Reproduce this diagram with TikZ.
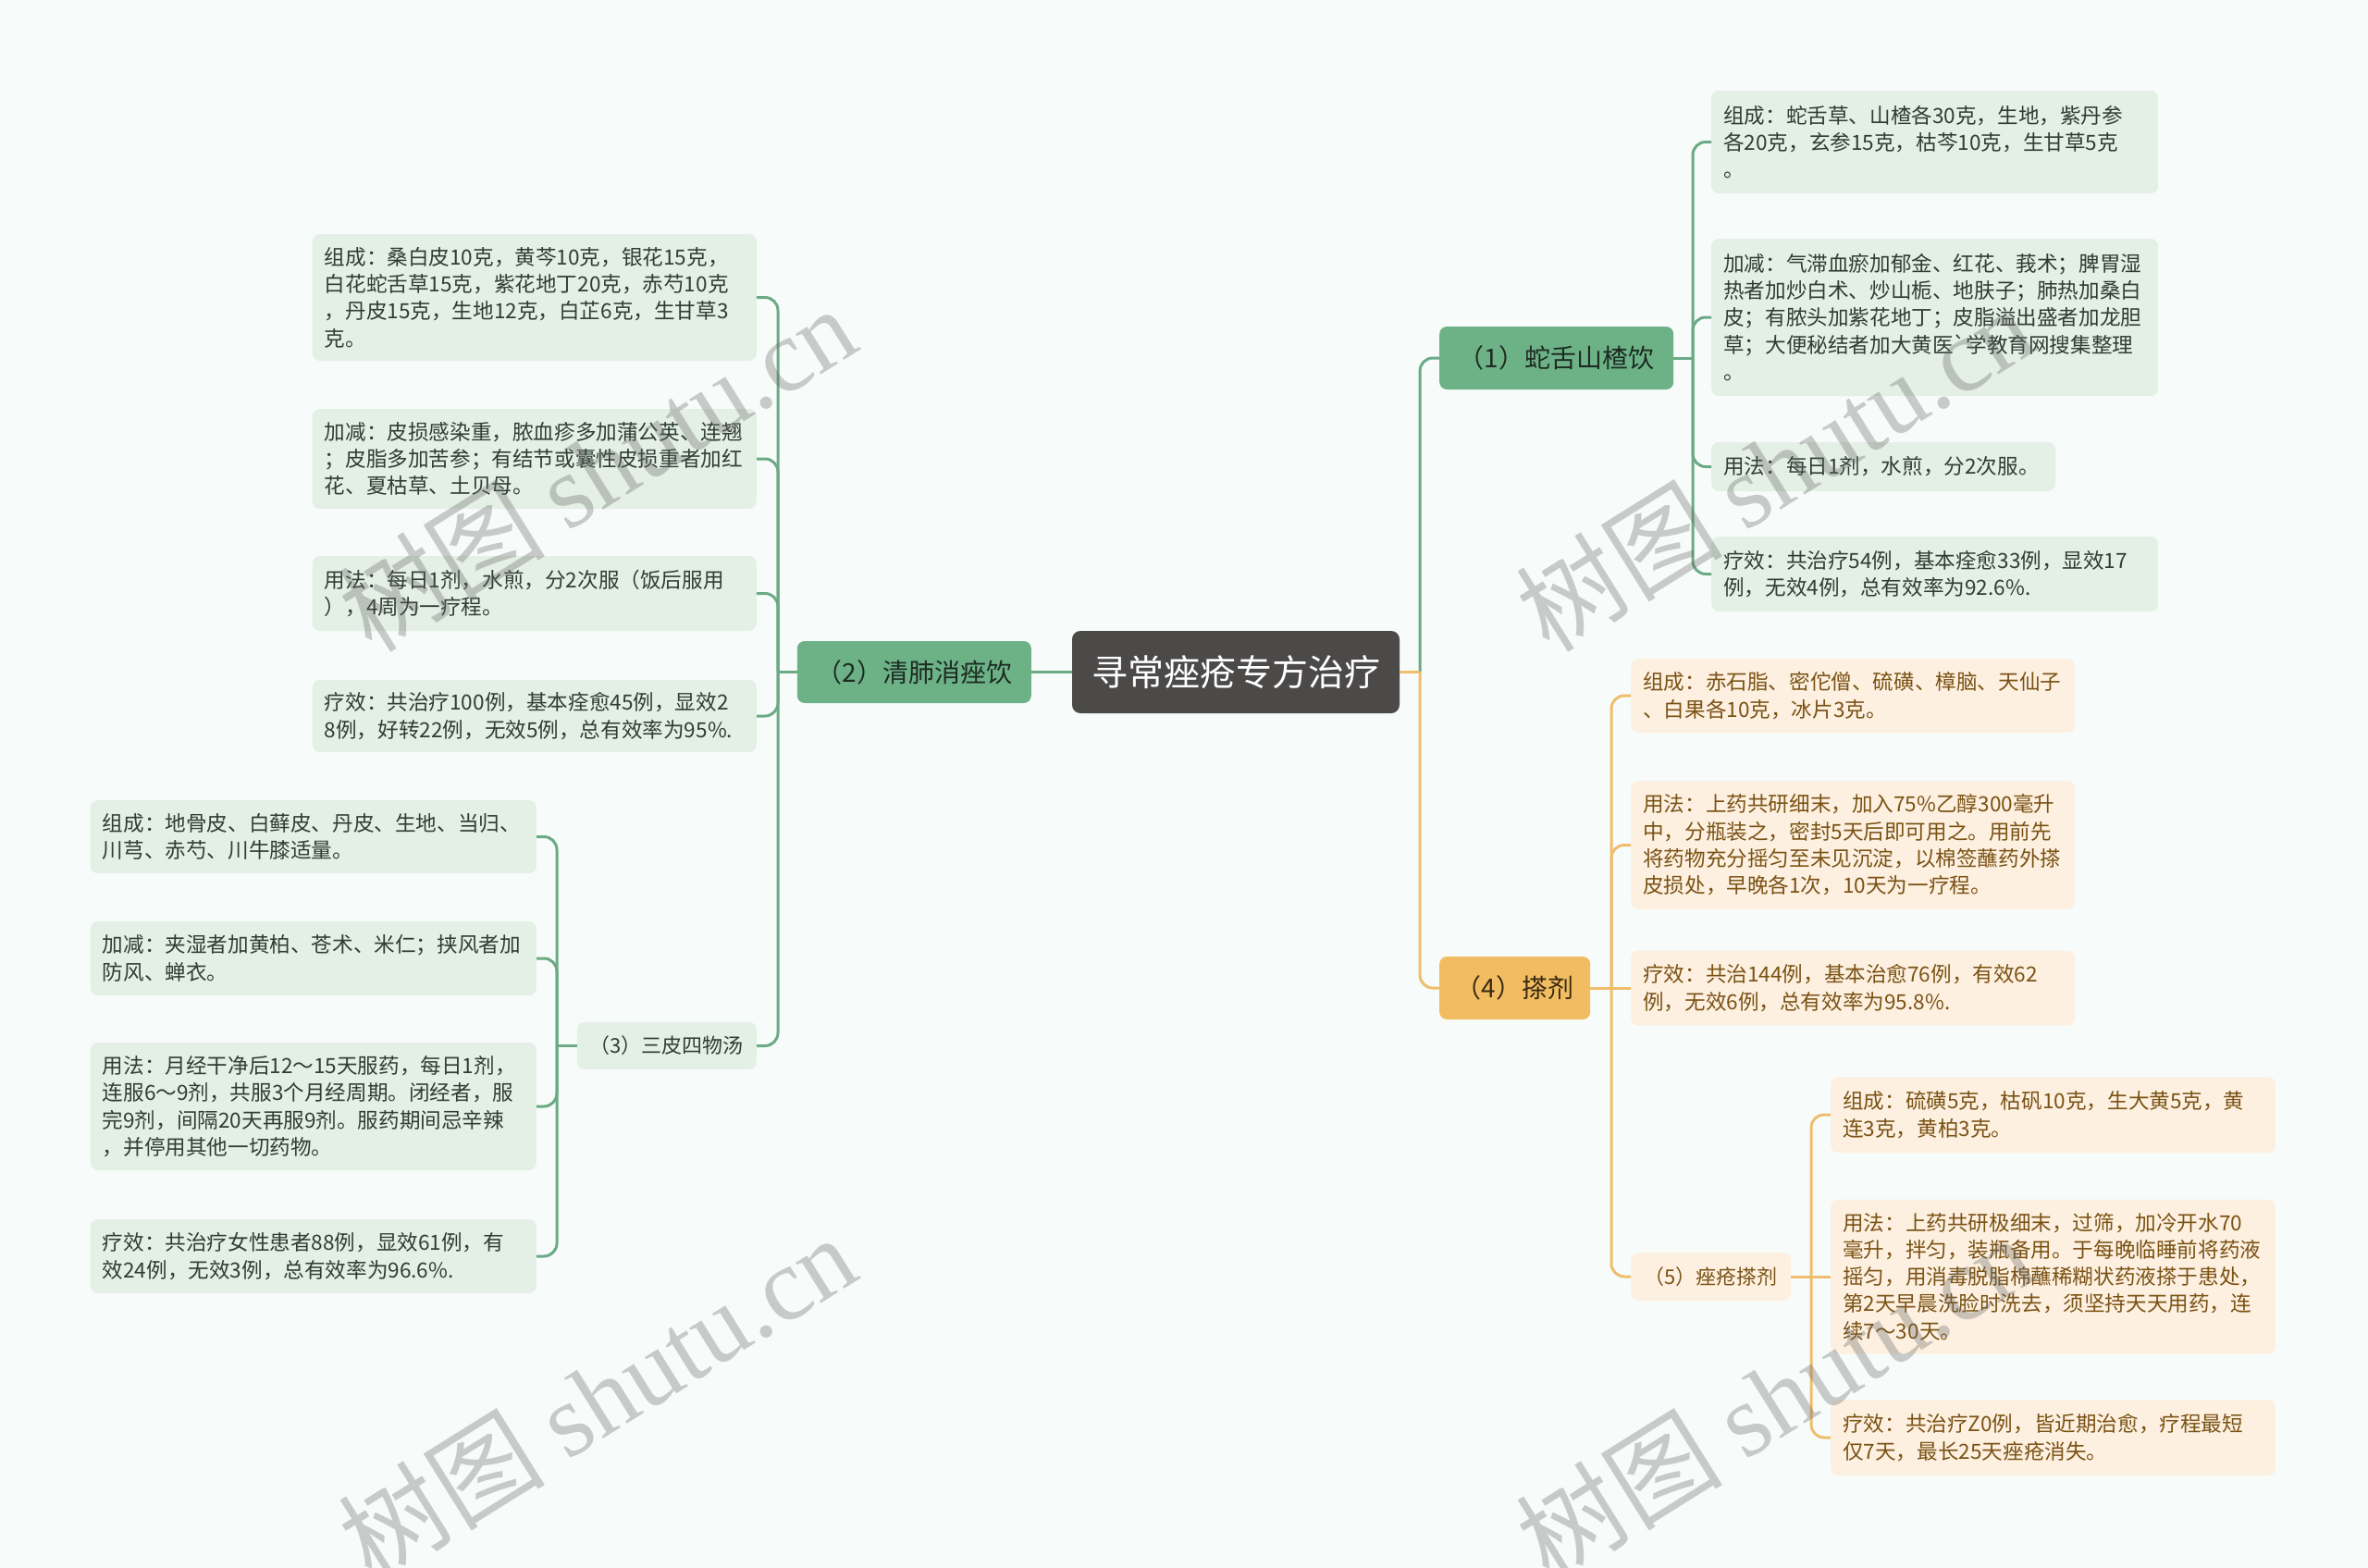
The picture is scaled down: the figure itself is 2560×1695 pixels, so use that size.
\documentclass[tikz,border=0pt]{standalone}
\usepackage{fontspec}
\setmainfont{Noto Sans CJK SC}
\newfontfamily\wmlatin{Liberation Serif}
\usetikzlibrary{calc}
\definecolor{bgc}{HTML}{F7FCFB}
\definecolor{leafgfill}{HTML}{E4EFE6}
\definecolor{leafgtext}{HTML}{2F3D33}
\definecolor{branchg}{HTML}{6DB287}
\definecolor{branchgtext}{HTML}{1D2B22}
\definecolor{lgreen}{HTML}{6BAA84}
\definecolor{brancho}{HTML}{F2BD62}
\definecolor{branchotext}{HTML}{3A2A10}
\definecolor{leafofill}{HTML}{FDF0E0}
\definecolor{leafotext}{HTML}{7A5214}
\definecolor{lorange}{HTML}{EFBE6C}
\definecolor{rootfill}{HTML}{4C4949}
\begin{document}
\begin{tikzpicture}[x=1pt,y=-1pt,
  conng/.style={draw=lgreen, line width=3pt, rounded corners=14pt},
  conno/.style={draw=lorange, line width=3pt, rounded corners=14pt},
  leafbase/.style={rounded corners=8pt, inner xsep=13pt, inner ysep=0pt, align=left, font=\fontsize{22.6}{29.3}\selectfont},
  leafg/.style={leafbase, fill=leafgfill, text=leafgtext},
  leafo/.style={leafbase, fill=leafofill, text=leafotext},
  branchgs/.style={rounded corners=8pt, fill=branchg, text=branchgtext, inner sep=0pt, font=\fontsize{28}{34}\selectfont},
  branchos/.style={rounded corners=8pt, fill=brancho, text=branchotext, inner sep=0pt, font=\fontsize{28}{34}\selectfont},
  subg/.style={rounded corners=8pt, fill=leafgfill, text=leafgtext, inner sep=0pt, font=\fontsize{22}{28}\selectfont},
  subo/.style={rounded corners=8pt, fill=leafofill, text=leafotext, inner sep=0pt, font=\fontsize{22}{28}\selectfont},
  rootst/.style={rounded corners=9pt, fill=rootfill, text=white, inner sep=0pt, font=\fontsize{39}{46}\selectfont},
  wm/.style={text=black!60, opacity=0.33, inner sep=0pt, font=\fontsize{112}{120}\selectfont}
]
\fill[bgc] (0,0) rectangle (2560,1695);
\useasboundingbox (0,0) rectangle (2560,1695);

% root and main branches
\node[rootst, minimum width=354pt, minimum height=89pt] (root) at (1336,726.5) {寻常痤疮专方治疗};
\node[branchgs, anchor=east, minimum width=253pt, minimum height=67pt] (n2) at (1115,726.5) {（2）清肺消痤饮};
\node[branchgs, anchor=west, minimum width=253pt, minimum height=68pt] (n1) at (1556,387) {（1）蛇舌山楂饮};
\node[branchos, anchor=west, minimum width=163pt, minimum height=68pt] (n4) at (1556,1068) {（4）搽剂};
\node[subg, anchor=east, minimum width=194pt, minimum height=51pt] (n3) at (818,1130.5) {（3）三皮四物汤};
\node[subo, anchor=west, minimum width=173pt, minimum height=52pt] (n5) at (1763,1380) {（5）痤疮搽剂};

% leaves of (2)
\node[leafg, anchor=east, text width=454pt, minimum height=137pt] (a21) at (818,321.5) {组成：桑白皮10克，黄芩10克，银花15克，\\白花蛇舌草15克，紫花地丁20克，赤芍10克\\，丹皮15克，生地12克，白芷6克，生甘草3\\克。};
\node[leafg, anchor=east, text width=454pt, minimum height=108pt] (a22) at (818,496) {加减：皮损感染重，脓血疹多加蒲公英、连翘\\；皮脂多加苦参；有结节或囊性皮损重者加红\\花、夏枯草、土贝母。};
\node[leafg, anchor=east, text width=454pt, minimum height=81pt] (a23) at (818,641.5) {用法：每日1剂，水煎，分2次服（饭后服用\\），4周为一疗程。};
\node[leafg, anchor=east, text width=454pt, minimum height=78pt] (a24) at (818,774) {疗效：共治疗100例，基本痊愈45例，显效2\\8例，好转22例，无效5例，总有效率为95\%.};

% leaves of (3)
\node[leafg, anchor=east, text width=456pt, minimum height=79pt] (a31) at (580,904.5) {组成：地骨皮、白藓皮、丹皮、生地、当归、\\川芎、赤芍、川牛膝适量。};
\node[leafg, anchor=east, text width=456pt, minimum height=80pt] (a32) at (580,1036) {加减：夹湿者加黄柏、苍术、米仁；挟风者加\\防风、蝉衣。};
\node[leafg, anchor=east, text width=456pt, minimum height=138pt] (a33) at (580,1196) {用法：月经干净后12～15天服药，每日1剂，\\连服6～9剂，共服3个月经周期。闭经者，服\\完9剂，间隔20天再服9剂。服药期间忌辛辣\\，并停用其他一切药物。};
\node[leafg, anchor=east, text width=456pt, minimum height=80pt] (a34) at (580,1358) {疗效：共治疗女性患者88例，显效61例，有\\效24例，无效3例，总有效率为96.6\%.};

% leaves of (1)
\node[leafg, anchor=west, text width=457pt, minimum height=111pt] (a11) at (1850,153.5) {组成：蛇舌草、山楂各30克，生地，紫丹参\\各20克，玄参15克，枯芩10克，生甘草5克\\。};
\node[leafg, anchor=west, text width=457pt, minimum height=170pt] (a12) at (1850,343) {加减：气滞血瘀加郁金、红花、莪术；脾胃湿\\热者加炒白术、炒山栀、地肤子；肺热加桑白\\皮；有脓头加紫花地丁；皮脂溢出盛者加龙胆\\草；大便秘结者加大黄医\textasciigrave 学教育网搜集整理\\。};
\node[leafg, anchor=west, text width=346pt, minimum height=53pt] (a13) at (1850,504.5) {用法：每日1剂，水煎，分2次服。};
\node[leafg, anchor=west, text width=457pt, minimum height=81pt] (a14) at (1850,620.5) {疗效：共治疗54例，基本痊愈33例，显效17\\例，无效4例，总有效率为92.6\%.};

% leaves of (4)
\node[leafo, anchor=west, text width=454pt, minimum height=80pt] (a41) at (1763,752) {组成：赤石脂、密佗僧、硫磺、樟脑、天仙子\\、白果各10克，冰片3克。};
\node[leafo, anchor=west, text width=454pt, minimum height=139pt] (a42) at (1763,913.5) {用法：上药共研细末，加入75\%乙醇300毫升\\中，分瓶装之，密封5天后即可用之。用前先\\将药物充分摇匀至未见沉淀，以棉签蘸药外搽\\皮损处，早晚各1次，10天为一疗程。};
\node[leafo, anchor=west, text width=454pt, minimum height=81pt] (a43) at (1763,1068) {疗效：共治144例，基本治愈76例，有效62\\例，无效6例，总有效率为95.8\%.};

% leaves of (5)
\node[leafo, anchor=west, text width=455pt, minimum height=82pt] (a51) at (1979,1205) {组成：硫磺5克，枯矾10克，生大黄5克，黄\\连3克，黄柏3克。};
\node[leafo, anchor=west, text width=455pt, minimum height=167pt] (a52) at (1979,1380) {用法：上药共研极细末，过筛，加冷开水70\\毫升，拌匀，装瓶备用。于每晚临睡前将药液\\摇匀，用消毒脱脂棉蘸稀糊状药液搽于患处，\\第2天早晨洗脸时洗去，须坚持天天用药，连\\续7～30天。};
\node[leafo, anchor=west, text width=455pt, minimum height=82pt] (a53) at (1979,1554) {疗效：共治疗Z0例，皆近期治愈，疗程最短\\仅7天，最长25天痤疮消失。};

% junction coordinates
\coordinate (t2) at (841,726.5);
\coordinate (tr) at (1535,726.5);
\coordinate (t1) at (1830,387);
\coordinate (t4) at (1742,1068);
\coordinate (t3) at (602,1130.5);
\coordinate (t5) at (1958,1380);

% connectors
\draw[conng] (root.west) -- (n2.east);
\draw[conng] (n2.west) -- (t2);
\foreach \l in {a21,a22,a23,a24,n3} \draw[conng] (t2) |- (\l.east);
\draw[conng] (n3.west) -- (t3);
\foreach \l in {a31,a32,a33,a34} \draw[conng] (t3) |- (\l.east);
\draw[conng] (tr) |- (n1.west);
\draw[conno] (root.east) -- (tr);
\draw[conno] (tr) |- (n4.west);
\draw[conng] (n1.east) -- (t1);
\foreach \l in {a11,a12,a13,a14} \draw[conng] (t1) |- (\l.west);
\draw[conno] (n4.east) -- (t4);
\foreach \l in {a41,a42} \draw[conno] (t4) |- (\l.west);
\draw[conno] (t4) -- (a43.west);
\draw[conno] (t4) |- (n5.west);
\draw[conno] (n5.east) -- (t5);
\foreach \l in {a51,a53} \draw[conno] (t5) |- (\l.west);
\draw[conno] (t5) -- (a52.west);

% watermarks
\foreach \wx/\wy/\wn in {645/506/wma, 1918/506/wmb, 645/1510/wmc, 1918/1510/wmd}
  \node[wm, rotate=32] (\wn) at (\wx,\wy) {树图 {\wmlatin shutu.cn}};
\end{tikzpicture}
\end{document}
